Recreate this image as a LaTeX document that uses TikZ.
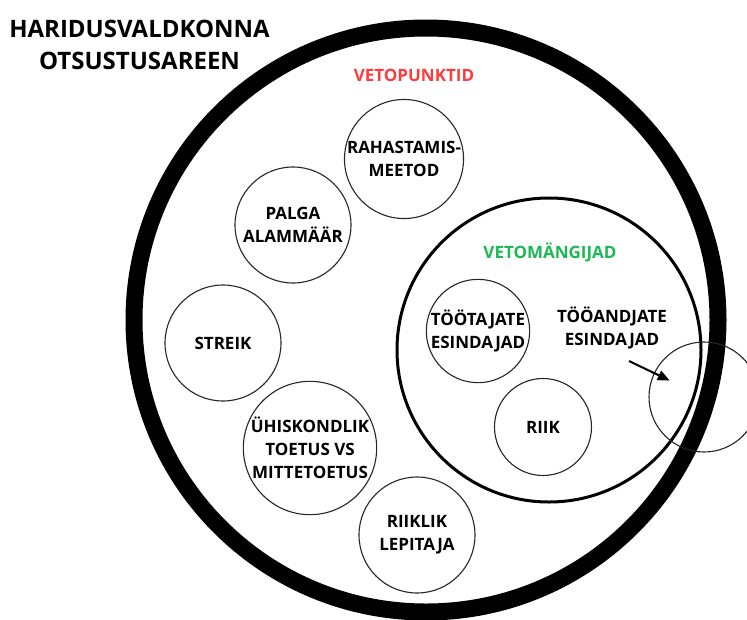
\documentclass[tikz,border=0pt]{standalone}
\usepackage{fontspec}
\setmainfont{Open Sans}
\usepackage{xcolor}
\usetikzlibrary{arrows.meta}
\definecolor{punktred}{HTML}{FF3B3B}
\definecolor{mangigreen}{HTML}{1DB954}

\begin{document}
\begin{tikzpicture}[
    x=1pt, y=-1pt,
    ring/.style={circle, draw=black, line width=17pt, minimum size=584pt, inner sep=0pt},
    keskring/.style={circle, draw=black, line width=3pt, minimum size=304pt, inner sep=0pt},
    punkt/.style={circle, draw=black!85, line width=1.1pt, minimum size=116pt, inner sep=0pt, align=center, font=\fontsize{17}{23}\selectfont\bfseries},
    mangija/.style={punkt, minimum size=97pt},
    silt/.style={align=center, inner sep=0pt, font=\fontsize{17}{23}\selectfont\bfseries},
    arrow/.style={-{Triangle[length=12pt, width=10pt]}, line width=2pt}
]
\useasboundingbox (0,0) rectangle (747,619);

% Title
\node[silt, font=\fontsize{24}{32}\selectfont\bfseries] (pealkiri) at (139.5,45) {HARIDUSVALDKONNA\\OTSUSTUSAREEN};

% Arena
\node[ring] (areen) at (426,320) {};
\node[silt, text=punktred] (vetopunktid) at (414,75) {VETOPUNKTID};

% Veto points
\node[punkt] (rahastamine) at (404,159) {RAHASTAMIS-\\MEETOD};
\node[punkt] (palk) at (293,225) {PALGA\\ALAMMÄÄR};
\node[punkt] (streik) at (223,343) {STREIK};
\node[punkt] (toetus) at (310,448) {ÜHISKONDLIK\\TOETUS VS\\MITTETOETUS};
\node[punkt] (lepitaja) at (417,535) {RIIKLIK\\LEPITAJA};

% Veto players
\node[keskring] (mangijad) at (549,350) {};
\node[silt, text=mangigreen] (vetomangijad) at (550,252) {VETOMÄNGIJAD};
\node[mangija] (tootajad) at (478,331) {TÖÖTAJATE\\ESINDAJAD};
\node[mangija] (riik) at (543,427) {RIIK};
\node[silt] (tooandjad) at (612,327.5) {TÖÖANDJATE\\ESINDAJAD};
\node[punkt, minimum size=110pt] (valjas) at (704,397) {};

% Arrow
\coordinate (noolalgus) at (629,361);
\draw[arrow, shorten >=38pt] (noolalgus) -- (valjas.center);

\end{tikzpicture}
\end{document}
